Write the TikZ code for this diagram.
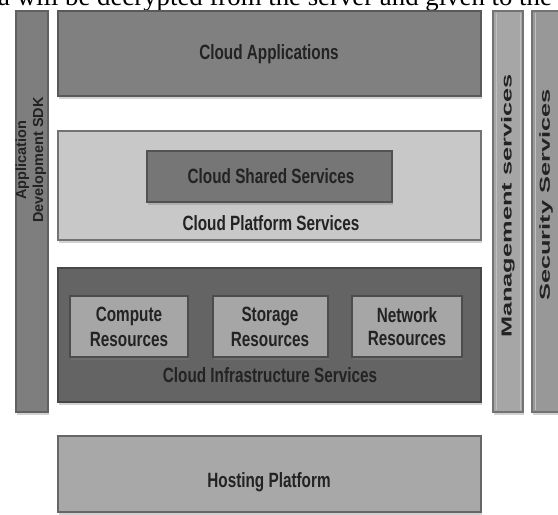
\documentclass[tikz,border=0pt]{standalone}
\usepackage{fontspec}
\setmainfont{Liberation Sans}
\newfontfamily\pageserif{Liberation Serif}
\usetikzlibrary{shadows}

\definecolor{inkgray}{RGB}{35,35,35}
\definecolor{sidebar}{RGB}{126,126,126}
\definecolor{appsfill}{RGB}{128,128,128}
\definecolor{platfill}{RGB}{200,200,200}
\definecolor{sharedfill}{RGB}{118,118,118}
\definecolor{infrafill}{RGB}{100,100,100}
\definecolor{resfill}{RGB}{166,166,166}
\definecolor{hostfill}{RGB}{168,168,168}
\definecolor{mgmtfill}{RGB}{166,166,166}
\definecolor{secfill}{RGB}{152,152,152}

% tall, narrow lettering for the horizontal labels
\newcommand{\tallt}[1]{\scalebox{1}[1.35]{#1}}
% long lettering for the right-hand vertical labels
\newcommand{\longt}[1]{\scalebox{1.75}[1]{#1}}

\tikzset{
  layer/.style={line width=1.6pt, drop shadow={shadow xshift=1pt, shadow yshift=-2.5pt, opacity=0.35}},
  lbl/.style={font=\bfseries\fontsize{15.3}{17}\selectfont, text=inkgray, inner sep=0pt},
  reslbl/.style={lbl, align=center},
  vlbl/.style={font=\bfseries\fontsize{14.5}{16}\selectfont, text=inkgray, inner sep=0pt, rotate=90},
}

\begin{document}
\begin{tikzpicture}[x=1pt,y=-1pt]
\useasboundingbox (0,0) rectangle (558,515);
\fill[white] (0,0) rectangle (558,515);

% line of page text running above the figure
\node[anchor=base west, inner sep=0pt, font=\pageserif\fontsize{26.8}{28}\selectfont, text=black]
  (pagetext) at (-2,5) {a will be decrypted from the server and given to the u};

% side columns
\draw[layer, fill=sidebar, draw=black!62] (16,11) rectangle (48,412);
\draw[layer, fill=mgmtfill, draw=black!55] (493,11) rectangle (523,412);
\draw[black!25, line width=0.6pt] (496,13) -- (496,410) (520,13) -- (520,410);
\draw[layer, fill=secfill, draw=black!55] (532,11) rectangle (566,412);
\draw[black!25, line width=0.6pt] (535,13) -- (535,410);

% stacked layers
\draw[layer, fill=appsfill, draw=black!65] (58,11) rectangle (481,96);
\draw[layer, fill=platfill, draw=black!55] (58,131) rectangle (481,240);
\draw[layer, fill=sharedfill, draw=black!68] (147,151) rectangle (392,202);
\draw[layer, fill=infrafill, draw=black!72] (58,268) rectangle (481,402);
\draw[layer, fill=resfill, draw=black!70] (70,296) rectangle (188,357);
\draw[layer, fill=resfill, draw=black!70] (213,296) rectangle (328,357);
\draw[layer, fill=resfill, draw=black!70] (352,296) rectangle (462,357);
\draw[layer, fill=hostfill, draw=black!60] (58,436) rectangle (481,512);

% labels
\node[lbl] (apps) at (269,54) {\tallt{Cloud Applications}};
\node[lbl] (shared) at (271,176) {\tallt{Cloud Shared Services}};
\node[lbl] (platform) at (271,223) {\tallt{Cloud Platform Services}};
\node[reslbl] (compute) at (129,327) {\tallt{Compute}\\[6pt]\tallt{Resources}};
\node[reslbl] (storage) at (270,327) {\tallt{Storage}\\[6pt]\tallt{Resources}};
\node[reslbl] (network) at (407,327) {\tallt{Network}\\[6pt]\tallt{Resources}};
\node[lbl] (infra) at (270,375) {\tallt{Cloud Infrastructure Services}};
\node[lbl] (hosting) at (269,482) {\tallt{Hosting Platform}};

% vertical labels
\node[vlbl, align=center, font=\bfseries\fontsize{14.5}{17}\selectfont] (sdk) at (31,160) {Application\\Development SDK};
\node[vlbl] (mgmt) at (508,206) {\longt{Management services}};
\node[vlbl] (sec) at (546,195) {\longt{Security Services}};
\end{tikzpicture}
\end{document}
